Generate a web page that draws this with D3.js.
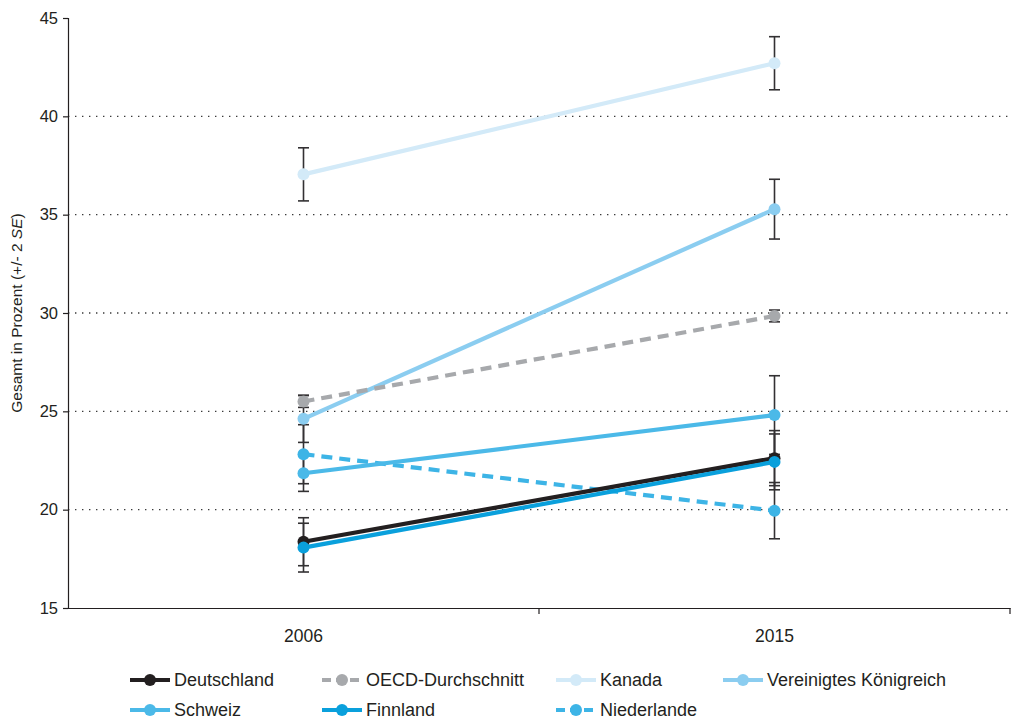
<!DOCTYPE html>
<html>
<head>
<meta charset="utf-8">
<script src="https://cdn.jsdelivr.net/npm/d3@7"></script>
<style>
  html, body { margin: 0; padding: 0; background: #fff; }
  svg { display: block; font-family: "Liberation Sans", Arial, sans-serif; }
</style>
</head>
<body>
<svg id="chart" width="1011" height="722"></svg>
<script>
// Survey years on the x axis
const years = ["2006", "2015"];

// Share in percent per country and year
const deutschland   = [18.37, 22.62];
const oecd          = [25.50, 29.85];
const kanada        = [37.05, 42.70];
const vereinigtesKR = [24.62, 35.28];
const schweiz       = [21.85, 24.81];
const finnland      = [18.07, 22.43];
const niederlande   = [22.82, 19.95];

// Two standard errors per country and year
const deutschlandSE   = [1.22, 1.40];
const oecdSE          = [0.30, 0.30];
const kanadaSE        = [1.35, 1.35];
const vereinigtesKRSE = [1.20, 1.52];
const schweizSE       = [0.92, 2.00];
const finnlandSE      = [1.24, 1.42];
const niederlandeSE   = [1.50, 1.43];

// Y axis tick labels
const yTicks = [15, 20, 25, 30, 35, 40, 45];
const gridTicks = [20, 25, 30, 35, 40];

const series = [
  { name: "Deutschland",            values: deutschland,   se: deutschlandSE,   color: "#231f20", dash: null },
  { name: "OECD-Durchschnitt",      values: oecd,          se: oecdSE,          color: "#a7a9ac", dash: "11,7" },
  { name: "Kanada",                 values: kanada,        se: kanadaSE,        color: "#d3eaf8", dash: null },
  { name: "Vereinigtes Königreich", values: vereinigtesKR, se: vereinigtesKRSE, color: "#8bcdf0", dash: null },
  { name: "Schweiz",                values: schweiz,       se: schweizSE,       color: "#4bb9e8", dash: null },
  { name: "Finnland",               values: finnland,      se: finnlandSE,      color: "#0aa0dc", dash: null },
  { name: "Niederlande",            values: niederlande,   se: niederlandeSE,   color: "#3db4e6", dash: "11,7" }
];

const svg = d3.select("#chart");
const plotLeft = 68, plotRight = 1010, plotTop = 18, plotBottom = 608;

const x = d3.scaleBand().domain(years).range([plotLeft, plotRight]).padding(0);
const y = d3.scaleLinear().domain([15, 45]).range([plotBottom, plotTop]);
const cx = d => x(d) + x.bandwidth() / 2;

// Dotted horizontal grid lines
svg.append("g").selectAll("line").data(gridTicks).join("line")
  .attr("x1", plotLeft).attr("x2", plotRight)
  .attr("y1", d => y(d)).attr("y2", d => y(d))
  .attr("stroke", "#3a3a3a").attr("stroke-width", 1.4)
  .attr("stroke-dasharray", "1.4,5.6");

// Y axis
const yAxis = svg.append("g").attr("transform", `translate(${plotLeft},0)`)
  .call(d3.axisLeft(y).tickValues(yTicks).tickSize(5).tickPadding(5));
yAxis.attr("font-size", null).attr("font-family", null);
yAxis.select(".domain").attr("stroke", "#231f20").attr("stroke-width", 1.2);
yAxis.selectAll(".tick line").attr("stroke", "#231f20").attr("stroke-width", 1.2);
yAxis.selectAll("text").attr("font-size", 16.5).attr("fill", "#231f20");

// X axis
const xAxis = svg.append("g").attr("transform", `translate(0,${plotBottom})`)
  .call(d3.axisBottom(x).tickSize(0).tickPadding(22));
xAxis.attr("font-size", null).attr("font-family", null);
xAxis.select(".domain").attr("stroke", "#231f20").attr("stroke-width", 1.2);
xAxis.selectAll("text").attr("font-size", 17.5).attr("fill", "#231f20");
// Category boundary ticks
xAxis.selectAll(".bound").data(years.slice(1).concat(["end"])).join("line")
  .attr("class", "bound")
  .attr("x1", d => d === "end" ? plotRight : x(d))
  .attr("x2", d => d === "end" ? plotRight : x(d))
  .attr("y1", 0).attr("y2", 6)
  .attr("stroke", "#231f20").attr("stroke-width", 1.2);

// Y axis title
const title = svg.append("text")
  .attr("transform", `translate(22,${(plotTop + plotBottom) / 2}) rotate(-90)`)
  .attr("text-anchor", "middle")
  .attr("font-size", 15.5).attr("fill", "#231f20");
title.append("tspan").text("Gesamt in Prozent (+/- 2 ");
title.append("tspan").attr("font-style", "italic").text("SE");
title.append("tspan").text(")");

// Error bars
const capW = 5.5;
const errG = svg.append("g");
series.forEach(s => {
  years.forEach((yr, i) => {
    const px = cx(yr);
    const lo = y(s.values[i] - s.se[i]);
    const hi = y(s.values[i] + s.se[i]);
    errG.append("line").attr("x1", px).attr("x2", px).attr("y1", hi).attr("y2", lo)
      .attr("stroke", "#333133").attr("stroke-width", 1.6);
    [hi, lo].forEach(v => errG.append("line")
      .attr("x1", px - capW).attr("x2", px + capW).attr("y1", v).attr("y2", v)
      .attr("stroke", "#333133").attr("stroke-width", 1.6));
  });
});

// Lines and points, drawn back to front
const line = d3.line().x((d, i) => cx(years[i])).y(d => y(d));
const drawOrder = ["Kanada", "Vereinigtes Königreich", "OECD-Durchschnitt", "Niederlande", "Schweiz", "Deutschland", "Finnland"];
drawOrder.forEach(n => {
  const s = series.find(d => d.name === n);
  const g = svg.append("g");
  g.append("path").datum(s.values).attr("d", line)
    .attr("fill", "none").attr("stroke", s.color).attr("stroke-width", 4.2)
    .attr("stroke-dasharray", s.dash);
  g.selectAll("circle").data(s.values).join("circle")
    .attr("cx", (d, i) => cx(years[i])).attr("cy", d => y(d))
    .attr("r", 6).attr("fill", s.color);
});

// Legend
const legendCols = [130, 322, 556, 723];
const legendRows = [680, 710];
const legend = svg.append("g");
series.forEach((s, i) => {
  const col = i < 4 ? i : i - 4;
  const row = i < 4 ? 0 : 1;
  const lx = legendCols[col], ly = legendRows[row];
  const g = legend.append("g").attr("transform", `translate(${lx},${ly})`);
  g.append("line").attr("x1", 0).attr("x2", 40).attr("y1", 0).attr("y2", 0)
    .attr("stroke", s.color).attr("stroke-width", 4)
    .attr("stroke-dasharray", s.dash ? "9,5" : null);
  g.append("circle").attr("cx", 20).attr("cy", 0).attr("r", 6).attr("fill", s.color);
  g.append("text").attr("x", 44).attr("y", 0).attr("dy", "0.35em")
    .attr("font-size", 18).attr("fill", "#231f20").text(s.name);
});
</script>
</body>
</html>
